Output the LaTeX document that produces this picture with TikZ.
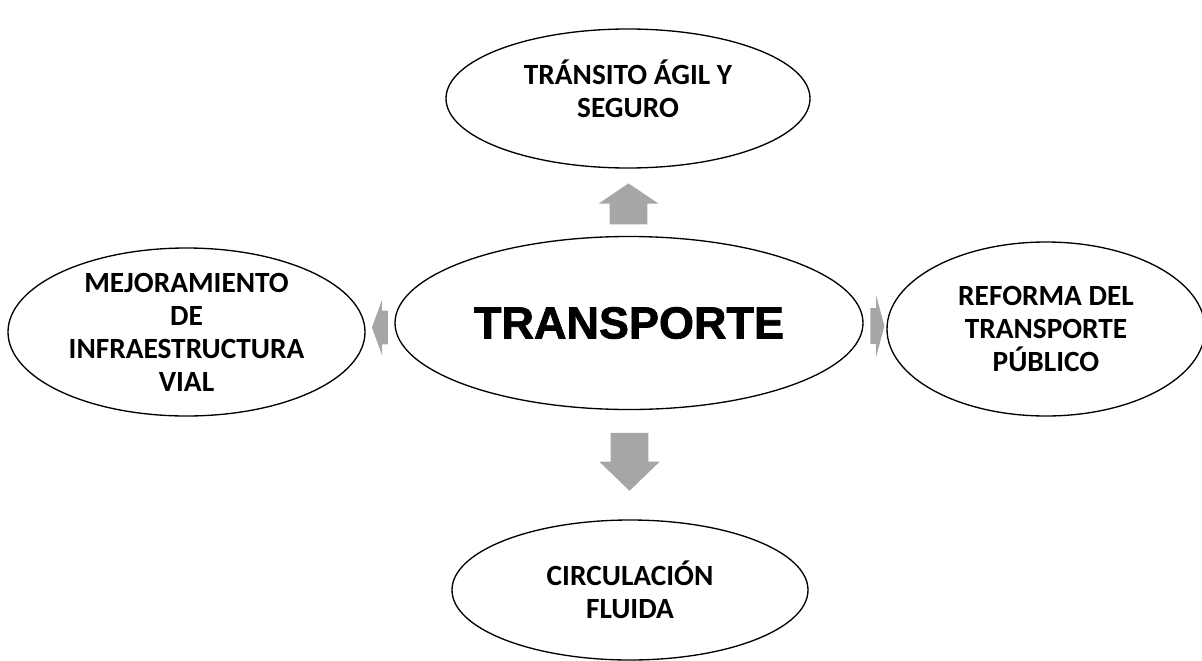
\documentclass[tikz,border=0pt]{standalone}
\usepackage{fontspec}
\setmainfont{Carlito}
\newfontfamily\arialfont[BoldFeatures={FakeBold=1.5}]{Liberation Sans}
\usepackage{tikz}
\usetikzlibrary{shapes.geometric,shapes.arrows,calc}
\definecolor{arrowgray}{RGB}{166,166,166}

\begin{document}
\begin{tikzpicture}[x=0.75pt,y=-0.75pt,
	idea/.style={ellipse, draw=black, line width=1pt, inner sep=0pt, align=center,
		font=\fontsize{22}{24.75}\selectfont\bfseries},
	bigarrow/.style={single arrow, fill=arrowgray, draw=none, inner sep=0pt,
		single arrow head indent=0pt}]

    \useasboundingbox (0,0) rectangle (1202,660);

    \node[idea, minimum width=351pt, minimum height=129.75pt,
    	font=\arialfont\fontsize{33.75}{40}\selectfont\bfseries] (transporte) at (629,323) {TRANSPORTE};

    \node[idea, minimum width=273pt, minimum height=104.25pt, text depth=15pt] (transito) at (628,98.5) {TRÁNSITO ÁGIL Y\\SEGURO};
    \node[idea, minimum width=267.75pt, minimum height=126pt] (mejora) at (186.5,332) {MEJORAMIENTO\\DE\\INFRAESTRUCTURA\\VIAL};
    \node[idea, minimum width=238.5pt, minimum height=130.5pt] (reforma) at (1046,329) {REFORMA DEL\\TRANSPORTE\\PÚBLICO};
    \node[idea, minimum width=267pt, minimum height=105pt] (circula) at (630,590) {CIRCULACIÓN\\FLUIDA};

    % block arrows between the centre and the four ideas
    \node[bigarrow, shape border rotate=90, minimum height=30.75pt, inner xsep=13.875pt,
    	single arrow head extend=8.25pt, single arrow tip angle=112, yshift=-6pt]
    	(uparrow) at ($(transporte.north)!0.5!(transito.south)$) {};
    \node[bigarrow, shape border rotate=270, minimum height=43.5pt, inner xsep=13.875pt,
    	single arrow head extend=8.6pt, single arrow tip angle=92, yshift=9pt]
    	(downarrow) at ($(transporte.south)!0.5!(circula.north)$) {};
    \node[bigarrow, shape border rotate=180, minimum height=12pt, inner ysep=12.375pt,
    	single arrow head extend=8.25pt, single arrow tip angle=140, xshift=2.25pt]
    	(leftarrow) at ($(transporte.west)!0.5!(mejora.east)$) {};
    \node[bigarrow, minimum height=10.5pt, inner ysep=13.125pt,
    	single arrow head extend=10.1pt, single arrow tip angle=150]
    	(rightarrow) at ($(transporte.east)!0.5!(reforma.west)$) {};

\end{tikzpicture}
\end{document}
